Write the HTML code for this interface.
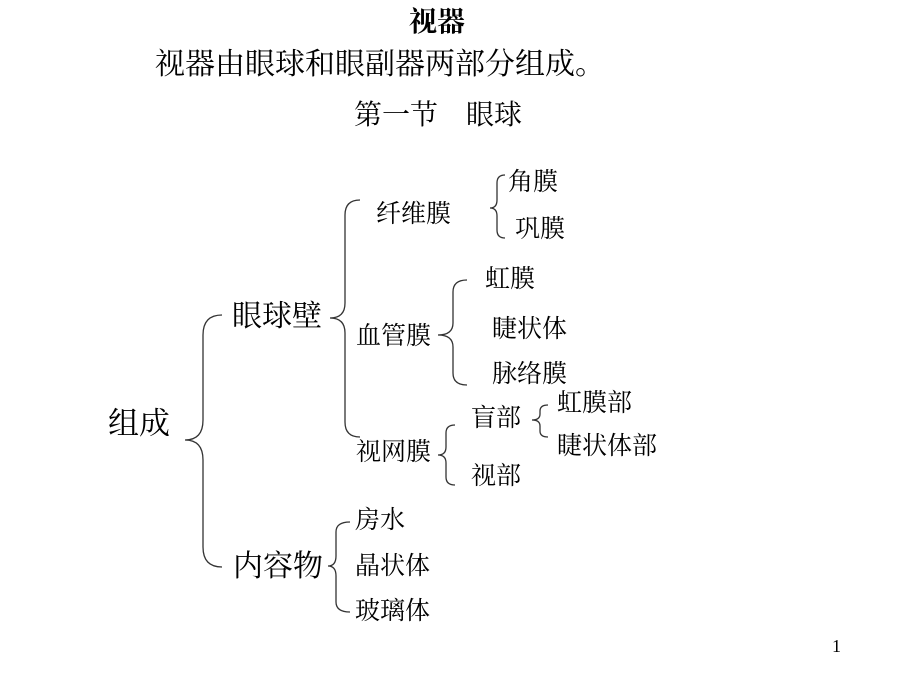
<!DOCTYPE html>
<html><head><meta charset="utf-8"><style>
body{margin:0;width:920px;height:690px;background:#fff;position:relative;overflow:hidden;font-family:"Liberation Serif","Noto Serif CJK SC","Noto Sans CJK SC",serif;color:#000}
.t{position:absolute;white-space:nowrap;line-height:1}
.s{font-size:25px}
</style></head><body>
<div class="t" style="left:409px;top:9px;font-size:28px;font-weight:bold">视器</div>
<div class="t" style="left:155px;top:50px;font-size:30px">视器由眼球和眼副器两部分组成。</div>
<div class="t" style="left:354px;top:102px;font-size:28px">第一节&nbsp;&nbsp;&nbsp;&nbsp;眼球</div>
<div class="t" style="left:108px;top:408px;font-size:31px">组成</div>
<div class="t" style="left:232px;top:302px;font-size:30px">眼球壁</div>
<div class="t" style="left:233px;top:552px;font-size:30px">内容物</div>
<div class="t s" style="left:376px;top:202px">纤维膜</div>
<div class="t s" style="left:356px;top:324px">血管膜</div>
<div class="t s" style="left:356px;top:440px">视网膜</div>
<div class="t s" style="left:508px;top:170px">角膜</div>
<div class="t s" style="left:515px;top:217px">巩膜</div>
<div class="t s" style="left:485px;top:267px">虹膜</div>
<div class="t s" style="left:492px;top:317px">睫状体</div>
<div class="t s" style="left:492px;top:362px">脉络膜</div>
<div class="t s" style="left:471px;top:406px">盲部</div>
<div class="t s" style="left:471px;top:464px">视部</div>
<div class="t s" style="left:557px;top:391px">虹膜部</div>
<div class="t s" style="left:557px;top:434px">睫状体部</div>
<div class="t s" style="left:355px;top:508px">房水</div>
<div class="t s" style="left:355px;top:554px">晶状体</div>
<div class="t s" style="left:355px;top:599px">玻璃体</div>
<div class="t" style="left:832px;top:637px;font-size:18px">1</div>
<svg width="920" height="690" style="position:absolute;left:0;top:0" fill="none" stroke="#333" stroke-width="1.3">
<path d="M222,315 Q203,315 203,335 L203,420 Q203,440 185,440 Q203,440 203,460 L203,547 Q203,567 222,567"/>
<path d="M360,200 Q345,200 345,215 L345,303 Q345,318 330,318 Q345,318 345,333 L345,422 Q345,437 360,437"/>
<path d="M467,280 Q453,280 453,292 L453,323 Q453,335 438,335 Q453,335 453,347 L453,373 Q453,385 467,385"/>
<path d="M455,425 Q446,425 446,433 L446,447 Q446,455 438,455 Q446,455 446,463 L446,477 Q446,485 455,485"/>
<path d="M350,522 Q336,522 336,532 L336,556 Q336,566 328,566 Q336,566 336,576 L336,602 Q336,612 350,612"/>
<path d="M505,175 Q497,175 497,183 L497,200 Q497,208 490,208 Q497,208 497,216 L497,230 Q497,238 505,238"/>
<path d="M548,405 Q540,405 540,411 L540,414 Q540,420 532,420 Q540,420 540,426 L540,431 Q540,437 548,437"/>
</svg>
</body></html>
